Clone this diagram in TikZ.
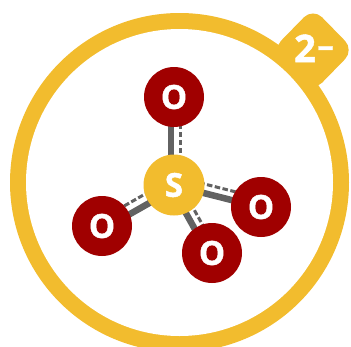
\documentclass[tikz,border=0pt]{standalone}
\usepackage{fontspec}
\setmainfont[BoldFeatures={FakeBold=1.3}]{Open Sans}
\usetikzlibrary{backgrounds}
\definecolor{ringy}{HTML}{F2BC2E}
\definecolor{atomr}{HTML}{A00000}
\definecolor{bondg}{HTML}{626262}
\pgfdeclarelayer{ringlayer}
\pgfsetlayers{ringlayer,background,main}
\tikzset{
 atomo/.style={circle,fill=atomr,minimum size=60pt,inner sep=0pt,text=white,font=\fontsize{33}{33}\selectfont\bfseries},
 atoms/.style={circle,fill=ringy,minimum size=61pt,inner sep=0pt,text=white,font=\fontsize{33}{33}\selectfont\bfseries},
 solidbond/.style={draw=bondg,line width=6.5pt},
 dashbond/.style={draw=bondg,line width=3pt,dash pattern=on 5.5pt off 2.5pt},
 badge/.style={text=white,inner sep=0pt,font=\fontsize{38}{38}\selectfont\bfseries}
}
\begin{document}
\begin{tikzpicture}[x=1pt,y=-1pt]
\useasboundingbox (0,0) rectangle (351,346);
\clip (0,0) rectangle (351,346);
\begin{pgfonlayer}{ringlayer}
\fill[ringy,rounded corners=13pt] (313,8) -- (354,50) -- (313,92) -- (272,50) -- cycle;
\fill[ringy] (179.5,182.5) circle (169.5pt);
\fill[white] (179.5,182.5) circle (153.5pt);
\end{pgfonlayer}
\node[atoms] (s) at (174,185) {S};
\node[atomo] (o1) at (174,97) {O};
\node[atomo] (o2) at (261,207) {O};
\node[atomo] (o3) at (212,253) {O};
\node[atomo] (o4) at (102,226) {O};
\node[badge,anchor=base west] (q) at (294,62) {2};
\node[badge,anchor=base west,font=\fontsize{33}{33}\selectfont\bfseries] (m) at (317,57) {–};
\begin{scope}[on background layer]
\draw[solidbond] ([xshift=-3pt]s.center) -- ([xshift=-3pt]o1.center);
\draw[dashbond] ([xshift=6pt]s.center) -- ([xshift=6pt]o1.center);
\draw[solidbond] ([yshift=-0.5pt]s.center) -- ([yshift=-0.5pt]o2.center);
\draw[dashbond] ([xshift=2pt,yshift=8.2pt]s.center) -- ([xshift=2pt,yshift=8.2pt]o2.center);
\draw[solidbond] ([xshift=-2.9pt,yshift=-1.6pt]s.center) -- ([xshift=-2.9pt,yshift=-1.6pt]o3.center);
\draw[dashbond] ([xshift=4.8pt,yshift=2.7pt]s.center) -- ([xshift=4.8pt,yshift=2.7pt]o3.center);
\draw[solidbond] ([xshift=1.7pt,yshift=-3pt]s.center) -- ([xshift=1.7pt,yshift=-3pt]o4.center);
\draw[dashbond] ([xshift=-3.2pt,yshift=5.6pt]s.center) -- ([xshift=-3.2pt,yshift=5.6pt]o4.center);
\end{scope}
\end{tikzpicture}
\end{document}
